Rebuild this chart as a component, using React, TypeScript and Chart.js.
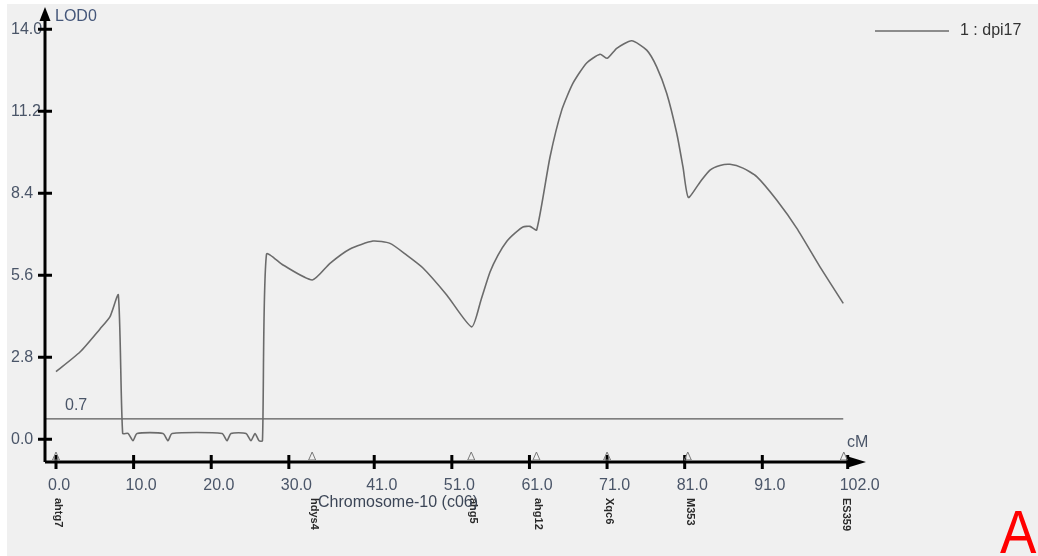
import React, { useEffect, useRef } from "react";
import { Chart, registerables } from "chart.js";

Chart.register(...registerables);

// ---- data ----
const positions = [
  0.0, 3.09, 5.67, 6.96, 8.03, 8.59, 9.28, 9.92, 10.44, 13.79, 14.43, 14.95,
  21.39, 22.03, 22.55, 24.48, 25.12, 25.64, 26.16, 26.6, 27.12, 29.25, 33.02,
  35.3, 37.88, 40.84, 43.03, 45.18, 47.28, 50.34, 53.56, 54.76, 55.92, 56.95,
  58.11, 59.13, 60.16, 61.07, 61.93, 63.65, 65.16, 66.61, 68.37, 70.09, 71.03,
  72.24, 74.17, 76.11, 77.39, 78.68, 79.97, 80.78, 81.47, 82.97, 84.26, 85.55,
  86.83, 88.51, 90.28, 92.85, 95.43, 98.43, 101.43,
];
const lodValues = [
  2.31, 2.98, 3.77, 4.19, 4.93, 0.2, 0.2, -0.05, 0.2, 0.2, -0.05, 0.2,
  0.2, -0.05, 0.2, 0.2, -0.05, 0.2, -0.05, -0.05, 6.32, 5.95, 5.44,
  6.01, 6.5, 6.77, 6.69, 6.29, 5.85, 4.93, 3.84, 4.76, 5.71, 6.29,
  6.77, 7.04, 7.25, 7.27, 7.15, 9.64, 11.24, 12.16, 12.85, 13.15, 13.01,
  13.35, 13.61, 13.29, 12.72, 11.82, 10.46, 9.3, 8.26, 8.78, 9.19, 9.35,
  9.39, 9.26, 8.97, 8.17, 7.21, 5.89, 4.64,
];
const threshold = 0.7;
const xTicks = [0, 10, 20, 30, 41, 51, 61, 71, 81, 91, 102];
const yTicks = [0, 2.8, 5.6, 8.4, 11.2, 14.0];
const markerPositions = [0, 33.0, 53.5, 61.9, 71.0, 81.4, 101.5];
const markerNames = ["ahtg7", "hdys4", "ahg5", "ahg12", "Xqc6", "M353", "ES359"];
const seriesLabel = "1 : dpi17";
const axisTitle = "Chromosome-10 (c06)";
const yTitle = "LOD0";
const xUnit = "cM";
const panelLetter = "A";

const X_MIN = -1.417;
const X_MAX = 104.36;
const Y_MIN = -0.775;
const Y_MAX = 14.83;

const FAMILY = "'Liberation Sans', Arial, sans-serif";
const LABEL_COLOR = "#4a5568";

const decorPlugin = {
  id: "decor",
  afterDraw(chart: any) {
    const { ctx, chartArea: a } = chart;
    const xs = chart.scales.x;
    const ys = chart.scales.y;
    ctx.save();
    const x0 = a.left;
    const yb = a.bottom;
    // axis lines
    ctx.strokeStyle = "#000";
    ctx.fillStyle = "#000";
    ctx.lineWidth = 3;
    ctx.beginPath();
    ctx.moveTo(x0, yb);
    ctx.lineTo(a.right - 14, yb);
    ctx.moveTo(x0, yb);
    ctx.lineTo(x0, a.top + 12);
    ctx.stroke();
    // arrows
    ctx.beginPath();
    ctx.moveTo(a.right, yb);
    ctx.lineTo(a.right - 18, yb - 5.5);
    ctx.lineTo(a.right - 18, yb + 5.5);
    ctx.closePath();
    ctx.fill();
    ctx.beginPath();
    ctx.moveTo(x0, a.top + 2);
    ctx.lineTo(x0 - 5.5, a.top + 16);
    ctx.lineTo(x0 + 5.5, a.top + 16);
    ctx.closePath();
    ctx.fill();
    // ticks
    ctx.lineWidth = 3;
    ctx.beginPath();
    xTicks.forEach((v) => {
      const px = xs.getPixelForValue(v);
      ctx.moveTo(px, yb - 7);
      ctx.lineTo(px, yb + 7);
    });
    yTicks.forEach((v) => {
      const py = ys.getPixelForValue(v);
      ctx.moveTo(x0 - 7, py);
      ctx.lineTo(x0 + 7, py);
    });
    ctx.stroke();
    // marker triangles
    ctx.strokeStyle = "#777";
    ctx.lineWidth = 1;
    markerPositions.forEach((m) => {
      const px = xs.getPixelForValue(m);
      ctx.beginPath();
      ctx.moveTo(px, yb - 10);
      ctx.lineTo(px - 3.5, yb - 2);
      ctx.lineTo(px + 3.5, yb - 2);
      ctx.closePath();
      ctx.stroke();
    });
    // marker names (vertical)
    ctx.fillStyle = "#2a2a2a";
    ctx.font = `bold 11px ${FAMILY}`;
    ctx.textAlign = "left";
    ctx.textBaseline = "middle";
    markerNames.forEach((name, i) => {
      const px = xs.getPixelForValue(markerPositions[i]) + 2;
      ctx.save();
      ctx.translate(px, yb + 36);
      ctx.rotate(Math.PI / 2);
      ctx.fillText(name, 0, 0);
      ctx.restore();
    });
    // texts
    ctx.fillStyle = "#45577a";
    ctx.font = `16px ${FAMILY}`;
    ctx.textBaseline = "middle";
    ctx.fillText(yTitle, x0 + 10, a.top + 12);
    ctx.fillStyle = LABEL_COLOR;
    ctx.fillText(xUnit, a.right - 19, yb - 19);
    ctx.fillText(String(threshold), x0 + 20, ys.getPixelForValue(threshold) - 13);
    ctx.fillStyle = "#3c4657";
    ctx.fillText(axisTitle, x0 + 273, yb + 41);
    // legend
    const ds = chart.data.datasets[0];
    ctx.strokeStyle = ds.borderColor;
    ctx.lineWidth = 1.5;
    ctx.beginPath();
    ctx.moveTo(868, 27);
    ctx.lineTo(942, 27);
    ctx.stroke();
    ctx.fillStyle = "#333";
    ctx.font = `16px ${FAMILY}`;
    ctx.fillText(ds.label, 953, 27);
    // panel letter
    ctx.fillStyle = "#ff0000";
    ctx.font = "62px 'Liberation Sans', Arial, sans-serif";
    ctx.textBaseline = "alphabetic";
    ctx.translate(993, 549);
    ctx.scale(0.88, 1);
    ctx.fillText(panelLetter, 0, 0);
    ctx.restore();
  },
};

export default function App() {
  const ref = useRef<HTMLCanvasElement>(null);
  useEffect(() => {
    if (!ref.current) return;
    const curve = positions.map((p, i) => ({ x: p, y: lodValues[i] }));
    const thr = [
      { x: X_MIN, y: threshold },
      { x: positions[positions.length - 1], y: threshold },
    ];
    const font = { family: FAMILY, size: 16 };
    const chart = new Chart(ref.current, {
      type: "line",
      data: {
        datasets: [
          {
            label: seriesLabel,
            data: curve,
            borderColor: "#6b6b6b",
            borderWidth: 1.6,
            pointRadius: 0,
            tension: 0.2,
            fill: false,
          },
          {
            label: "threshold",
            data: thr,
            borderColor: "#5a5a5a",
            borderWidth: 1.2,
            pointRadius: 0,
            tension: 0,
            fill: false,
          },
        ],
      },
      options: {
        animation: false,
        responsive: false,
        layout: { padding: { left: 4, top: 1, right: 172, bottom: 0 } },
        plugins: { legend: { display: false }, tooltip: { enabled: false } },
        scales: {
          x: {
            type: "linear",
            min: X_MIN,
            max: X_MAX,
            afterBuildTicks: (s: any) => {
              s.ticks = xTicks.map((v) => ({ value: v }));
            },
            afterFit: (s: any) => {
              s.height = 94;
              s.paddingLeft = 0;
              s.paddingRight = 0;
            },
            grid: { display: false, drawTicks: false },
            border: { display: false },
            ticks: {
              align: "start",
              labelOffset: -8,
              padding: 14,
              color: LABEL_COLOR,
              font,
              autoSkip: false,
              maxRotation: 0,
              callback: (v: any) => Number(v).toFixed(1),
            },
          },
          y: {
            type: "linear",
            min: Y_MIN,
            max: Y_MAX,
            afterBuildTicks: (s: any) => {
              s.ticks = yTicks.map((v) => ({ value: v }));
            },
            afterFit: (s: any) => {
              s.width = 34;
              s.paddingTop = 0;
              s.paddingBottom = 0;
            },
            grid: { display: false, drawTicks: false },
            border: { display: false },
            ticks: {
              crossAlign: "far",
              color: LABEL_COLOR,
              font,
              autoSkip: false,
              callback: (v: any) => Number(v).toFixed(1),
            },
          },
        },
      } as any,
      plugins: [decorPlugin],
    });
    return () => chart.destroy();
  }, []);
  return (
    <div
      style={{
        position: "fixed",
        left: 7,
        top: 4,
        width: 1031,
        height: 552,
        background: "#f0f0f0",
      }}
    >
      <canvas ref={ref} width={1031} height={552} style={{ display: "block" }} />
    </div>
  );
}
